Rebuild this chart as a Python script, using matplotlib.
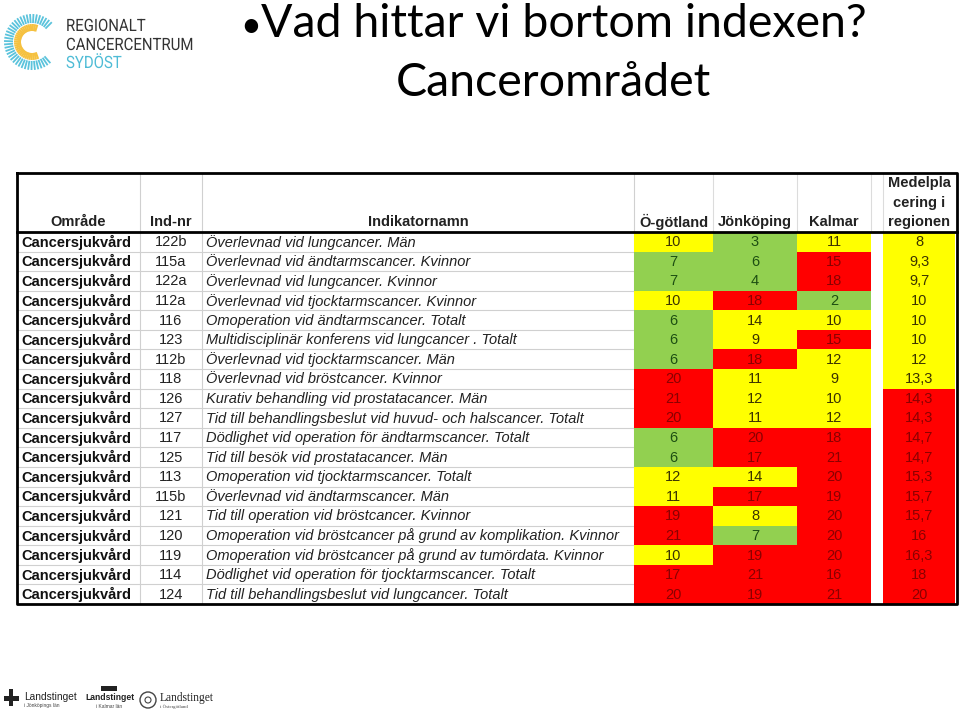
import numpy as np
import matplotlib
matplotlib.use("Agg")
import matplotlib.pyplot as plt
from matplotlib.patches import Rectangle, Circle, PathPatch
from matplotlib.textpath import TextPath
from matplotlib.font_manager import FontProperties
from matplotlib.transforms import Affine2D

# Tabellens innehall
omrade = ["Cancersjukvård"] * 19
ind_nr = ["122b", "115a", "122a", "112a", "116", "123", "112b", "118", "126", "127",
          "117", "125", "113", "115b", "121", "120", "119", "114", "124"]
indikatornamn = [
    "Överlevnad vid lungcancer. Män",
    "Överlevnad vid ändtarmscancer. Kvinnor",
    "Överlevnad vid lungcancer. Kvinnor",
    "Överlevnad vid tjocktarmscancer. Kvinnor",
    "Omoperation vid ändtarmscancer. Totalt",
    "Multidisciplinär konferens vid lungcancer . Totalt",
    "Överlevnad vid tjocktarmscancer. Män",
    "Överlevnad vid bröstcancer. Kvinnor",
    "Kurativ behandling vid prostatacancer. Män",
    "Tid till behandlingsbeslut vid huvud- och halscancer. Totalt",
    "Dödlighet vid operation för ändtarmscancer. Totalt",
    "Tid till besök vid prostatacancer. Män",
    "Omoperation vid tjocktarmscancer. Totalt",
    "Överlevnad vid ändtarmscancer. Män",
    "Tid till operation vid bröstcancer. Kvinnor",
    "Omoperation vid bröstcancer på grund av komplikation. Kvinnor",
    "Omoperation vid bröstcancer på grund av tumördata. Kvinnor",
    "Dödlighet vid operation för tjocktarmscancer. Totalt",
    "Tid till behandlingsbeslut vid lungcancer. Totalt",
]
ogotland = [10, 7, 7, 10, 6, 6, 6, 20, 21, 20, 6, 6, 12, 11, 19, 21, 10, 17, 20]
jonkoping = [3, 6, 4, 18, 14, 9, 18, 11, 12, 11, 20, 17, 14, 17, 8, 7, 19, 21, 19]
kalmar = [11, 15, 18, 2, 10, 15, 12, 9, 10, 12, 18, 21, 20, 19, 20, 20, 20, 16, 21]
medel = [8, 9.3, 9.7, 10, 10, 10, 12, 13.3, 14.3, 14.3, 14.7, 14.7, 15.3, 15.7, 15.7,
         16, 16.3, 18, 20]
rubriker = ["Område", "Ind-nr", "Indikatornamn", "Ö-götland", "Jönköping", "Kalmar"]

# farger (fyllning, text)
GRON = ("#92d050", "#1d4f12")
GUL = ("#ffff00", "#3b3300")
ROD = ("#ff0000", "#8a0000")

def farg(v, grans_rod=14.5):
    if v <= 7:
        return GRON
    if v < grans_rod:
        return GUL
    return ROD

def smal_text(ax, x, y, s, size, color, sx=0.88, family="Roboto"):
    # smalare text for loggan (y-axeln ar vand)
    p = TextPath((0, 0), s, size=size, prop=FontProperties(family=family))
    p = Affine2D().scale(sx, -1).translate(x, y).transform_path(p)
    ax.add_patch(PathPatch(p, facecolor=color, edgecolor="none", lw=0))

TAB = "Liberation Sans"
fig = plt.figure(figsize=(9.6, 7.14), dpi=100)
ax = fig.add_axes([0, 0, 1, 1])
ax.set_xlim(0, 960)
ax.set_ylim(714, 0)
ax.axis("off")

# kolumnkanter
x_kant = [17, 140, 202, 634, 713, 797, 871]
x_medel = (883, 955)
y_top, y_head, y_bot = 173, 232, 604
n = len(ind_nr)
h = (y_bot - y_head) / n

# rutnat
for i in range(n + 1):
    y = y_head + i * h
    ax.plot([17, 634], [y, y], color="#d0d0d0", lw=0.8, zorder=1)
for x in [140, 202, 634]:
    ax.plot([x, x], [y_top, y_bot], color="#d0d0d0", lw=0.8, zorder=1)
for x in [713, 797, 871, 883]:
    ax.plot([x, x], [y_top, y_head], color="#dcdcdc", lw=0.8, zorder=1)

# rubriker
head_x = [(x_kant[i] + x_kant[i + 1]) / 2 for i in range(6)]
for x, t in zip(head_x, rubriker):
    ax.text(x, 222, t, ha="center", va="center", fontsize=10.5, fontweight="bold",
            family=TAB, color="#222222")
for j, t in enumerate(["Medelpla", "cering i", "regionen"]):
    ax.text(919, 183 + j * 19.5, t, ha="center", va="center", fontsize=10.5,
            fontweight="bold", family=TAB, color="#222222")

# rader
for i in range(n):
    y0 = y_head + i * h
    yc = y0 + h / 2 + 0.5
    ax.text(21, yc, omrade[i], ha="left", va="center", fontsize=10.5, fontweight="bold",
            family=TAB, color="#111111")
    ax.text(171, yc, ind_nr[i], ha="center", va="center", fontsize=10.5,
            family=TAB, color="#222222")
    ax.text(206, yc, indikatornamn[i], ha="left", va="center", fontsize=10.5,
            style="italic", family=TAB, color="#222222")
    for k, serie in enumerate([ogotland, jonkoping, kalmar]):
        fyll, txt = farg(serie[i])
        x0, x1 = x_kant[3 + k], x_kant[4 + k]
        ax.add_patch(Rectangle((x0, y0), x1 - x0, h, facecolor=fyll, edgecolor="none", zorder=2))
        ax.text((x0 + x1) / 2, yc, str(serie[i]), ha="center", va="center", fontsize=10.5,
                family=TAB, color=txt, zorder=3)
    fyll, txt = farg(medel[i], grans_rod=14)
    ax.add_patch(Rectangle((x_medel[0], y0), x_medel[1] - x_medel[0], h, facecolor=fyll,
                           edgecolor="none", zorder=2))
    ax.text(919, yc, f"{medel[i]:g}".replace(".", ","), ha="center", va="center",
            fontsize=10.5, family=TAB, color=txt, zorder=3)

# tjocka ramar
ax.plot([17, 957, 957, 17, 17], [y_top, y_top, y_bot, y_bot, y_top], color="black", lw=2, zorder=4)
ax.plot([17, 957], [y_head, y_head], color="black", lw=2, zorder=4)

# titel
TITEL = ["Lato", "DejaVu Sans"]
ax.text(240, 37, "•", ha="left", va="baseline", fontsize=26, family=TITEL, color="black")
ax.text(261, 37, "Vad hittar vi bortom indexen?", ha="left", va="baseline",
        fontsize=33.5, family=TITEL, color="black")
ax.text(553, 96, "Cancerområdet", ha="center", va="baseline", fontsize=33.5,
        family=TITEL, color="black")

# logga uppe till vanster
cx, cy = 32, 42
for a in np.arange(45, 316, 7):
    r = np.deg2rad(a)
    ax.plot([cx + 19 * np.cos(r), cx + 28 * np.cos(r)], [cy - 19 * np.sin(r), cy - 28 * np.sin(r)],
            color="#5bc3dc", lw=1.3, solid_capstyle="butt")
    if 70 <= a <= 290:
        ax.plot([cx + 11 * np.cos(r), cx + 18 * np.cos(r)], [cy - 11 * np.sin(r), cy - 18 * np.sin(r)],
                color="#f5c140", lw=1.5, solid_capstyle="butt")
smal_text(ax, 66, 31, "REGIONALT", 17, "#333333")
smal_text(ax, 66, 50, "CANCERCENTRUM", 17, "#333333")
smal_text(ax, 66, 68, "SYDÖST", 17, "#4fbcd6")

# loggor nere
ax.add_patch(Rectangle((4, 696), 15, 5, facecolor="#222222", edgecolor="none"))
ax.add_patch(Rectangle((9, 689), 4, 17, facecolor="#222222", edgecolor="none"))
ax.text(24, 697, "Landstinget", ha="left", va="center", fontsize=7.3, family="Liberation Sans",
        color="#222222")
ax.text(24, 706, "i Jönköpings län", ha="left", va="center", fontsize=3.5,
        family="Liberation Sans", color="#444444")
ax.add_patch(Rectangle((101, 686), 16, 5, facecolor="#222222", edgecolor="none"))
ax.text(109.5, 698, "Landstinget", ha="center", va="center", fontsize=6.2, fontweight="bold",
        family="Liberation Sans", color="#222222")
ax.text(109.5, 706, "i Kalmar län", ha="center", va="center", fontsize=3.5,
        family="Liberation Sans", color="#444444")
ax.add_patch(Circle((148, 700), 8, facecolor="none", edgecolor="#444444", lw=1))
ax.add_patch(Circle((148, 700), 3, facecolor="none", edgecolor="#444444", lw=0.8))
ax.text(160, 698, "Landstinget", ha="left", va="center", fontsize=8.3, family="Liberation Serif",
        color="#222222")
ax.text(160, 707, "i Östergötland", ha="left", va="center", fontsize=3.5,
        family="Liberation Serif", color="#444444")

fig.savefig("out.png", dpi=100, facecolor="white")
